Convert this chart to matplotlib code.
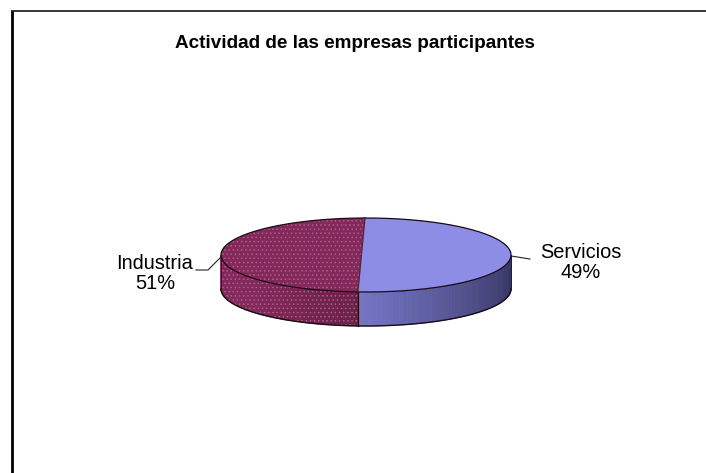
import numpy as np
import matplotlib
matplotlib.use("Agg")
import matplotlib.pyplot as plt
from matplotlib.colors import to_rgb

# -----------------------------
# data
# -----------------------------
title = "Actividad de las empresas participantes"
categories = ["Servicios", "Industria"]
shares = [49, 51]

# -----------------------------
# pie geometry (pixels)
# -----------------------------
cx, cy = 366, 255
rx, ry = 145, 37
depth = 34
start_angle = -0.4
view_skew = 7.2  # the 3D view makes the first slice look a bit wider

top_colors = ["#8d8de6", "#84285a"]
wall_light = ["#7777c8", "#84285a"]
wall_dark = ["#34345f", "#6a2046"]
edge = "#1a0a14"
plt.rcParams["hatch.linewidth"] = 0.6


def rim(t):
    t = np.radians(t)
    return cx + rx * np.sin(t), cy - ry * np.cos(t)


def mix(c1, c2, f):
    c1, c2 = np.array(to_rgb(c1)), np.array(to_rgb(c2))
    return tuple(c1 + (c2 - c1) * f)


fig = plt.figure(figsize=(7.06, 4.73), dpi=100)
ax = fig.add_axes([0, 0, 1, 1])
ax.set_xlim(0, 706)
ax.set_ylim(473, 0)
ax.axis("off")

# frame
ax.plot([12, 12], [473, 11.5], color="black", lw=2.0, solid_capstyle="butt")
ax.plot([11, 706], [11.5, 11.5], color="black", lw=1.1, solid_capstyle="butt")

# slice limits come from the shares
split = start_angle + shares[0] * 3.6 + view_skew
end = start_angle + 360

# side wall, front half only
steps = np.arange(90, 270, 1.5)
for t0 in steps:
    t1 = t0 + 1.5
    x0, y0 = rim(t0)
    x1, y1 = rim(t1)
    if (t0 + t1) / 2 < split:
        f = (t0 - 90) / (split - 90)
        col = mix(wall_dark[0], wall_light[0], f ** 1.2)
    else:
        f = (t0 - split) / (270 - split)
        col = mix(wall_dark[1], wall_light[1], min(f * 1.8, 1))
    ax.fill([x0, x1, x1, x0], [y0, y1, y1 + depth, y0 + depth], color=col, lw=0.6)

# dither texture on the maroon wall
xw, yw = rim(np.linspace(split, 270, 120))
ax.fill(np.r_[xw, xw[::-1]], np.r_[yw, yw[::-1] + depth], facecolor="none",
        edgecolor="#a8608c", hatch="....", lw=0)

# wall outline
t_front = np.linspace(90, 270, 200)
xf, yf = rim(t_front)
ax.plot(xf, yf + depth, color=edge, lw=1.0)
ax.plot([xf[0], xf[0]], [yf[0], yf[0] + depth], color=edge, lw=0.5)
ax.plot([xf[-1], xf[-1]], [yf[-1], yf[-1] + depth], color=edge, lw=0.5)
xs, ys = rim(split)
ax.plot([xs, xs], [ys, ys + depth], color=edge, lw=0.9)

# top faces
xa, ya = rim(start_angle)
mid_x, mid_y = (xa + xs) / 2, (ya + ys) / 2
ranges = [(start_angle, split), (split, end)]
for i, ((t0, t1), col) in enumerate(zip(ranges, top_colors)):
    x, y = rim(np.linspace(t0, t1, 200))
    ax.fill(np.r_[x, mid_x], np.r_[y, mid_y], color=col, lw=0)
    if i == 1:
        ax.fill(np.r_[x, mid_x], np.r_[y, mid_y], facecolor="none",
                edgecolor="#a8608c", hatch="....", lw=0)
    ax.plot(x, y, color=edge, lw=0.9)
ax.plot([xa, xs], [ya, ys], color="#3a2a50", lw=0.9)

# leader lines
ax.plot([196, 208, 221], [270, 270, 257], color="#222222", lw=0.8)
ax.plot([511, 530], [256, 259], color="#222222", lw=0.8)

# text
font = "Liberation Sans"
ax.text(354.5, 43, title, ha="center", va="center", family=font,
        fontsize=13.6, fontweight="bold", color="black")
ax.text(155, 273.5, f"{categories[1]}\n{shares[1]}%", ha="center", va="center",
        family=font, fontsize=14.4, color="black", linespacing=1.06)
ax.text(581, 262.5, f"{categories[0]}\n{shares[0]}%", ha="center", va="center",
        family=font, fontsize=14.4, color="black", linespacing=1.06)

fig.savefig("out.png", dpi=100)
